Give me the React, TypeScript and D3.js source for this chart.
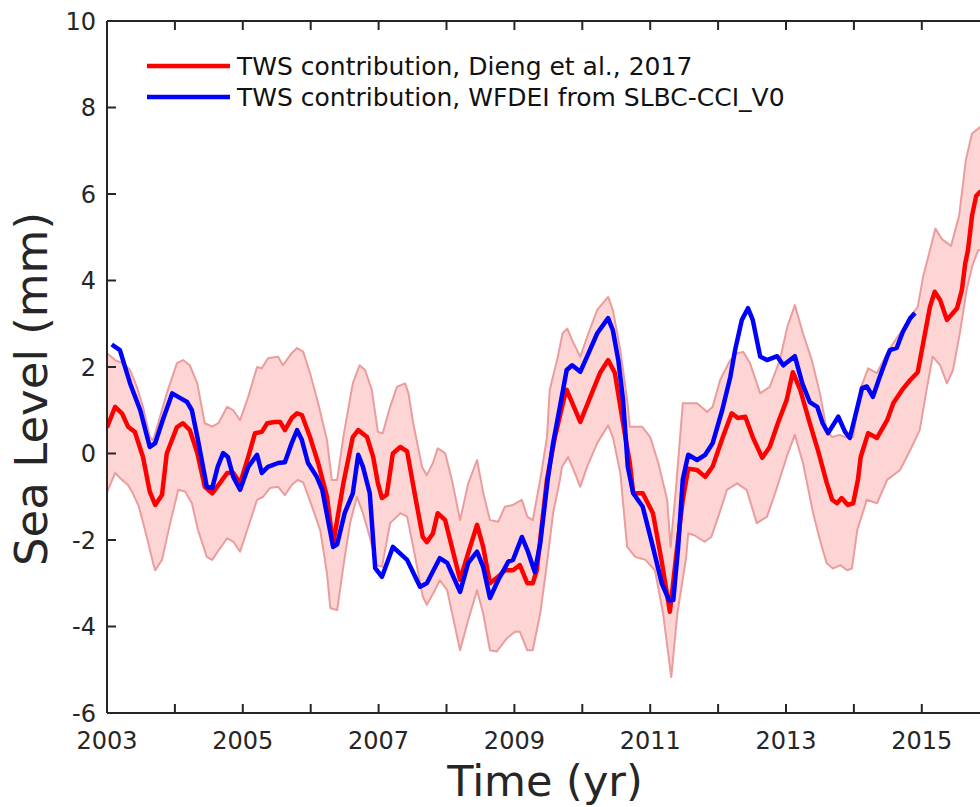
import React from "react";
import * as d3 from "d3";

// ---- Data (decimal year, mm) ----
const diengT = [2003.0,2003.12,2003.22,2003.31,2003.41,2003.53,2003.63,2003.71,2003.81,2003.88,2004.03,2004.12,2004.22,2004.33,2004.44,2004.55,2004.66,2004.77,2004.86,2004.96,2005.08,2005.18,2005.28,2005.36,2005.47,2005.55,2005.62,2005.72,2005.8,2005.87,2005.99,2006.11,2006.24,2006.33,2006.48,2006.62,2006.7,2006.83,2006.92,2006.99,2007.05,2007.12,2007.21,2007.32,2007.42,2007.54,2007.65,2007.71,2007.8,2007.87,2007.98,2008.2,2008.32,2008.45,2008.54,2008.64,2008.76,2008.86,2008.98,2009.08,2009.19,2009.27,2009.33,2009.48,2009.6,2009.75,2009.77,2009.97,2010.16,2010.26,2010.38,2010.48,2010.6,2010.7,2010.75,2010.89,2011.04,2011.17,2011.29,2011.38,2011.48,2011.56,2011.69,2011.81,2011.92,2012.07,2012.2,2012.29,2012.4,2012.51,2012.65,2012.76,2012.88,2013.01,2013.1,2013.21,2013.35,2013.47,2013.6,2013.68,2013.75,2013.82,2013.91,2013.99,2014.06,2014.1,2014.21,2014.34,2014.49,2014.58,2014.71,2014.83,2014.94,2015.02,2015.12,2015.19,2015.27,2015.37,2015.52,2015.59,2015.64,2015.68,2015.74,2015.8,2015.86,2016.0];
const diengV = [0.6,1.08,0.93,0.62,0.5,-0.08,-0.88,-1.19,-0.96,0.0,0.61,0.7,0.54,0.01,-0.77,-0.92,-0.69,-0.45,-0.45,-0.69,-0.08,0.47,0.5,0.7,0.73,0.73,0.54,0.82,0.93,0.89,0.38,-0.22,-1.0,-2.1,-0.7,0.38,0.54,0.38,-0.08,-0.69,-1.03,-0.95,0.0,0.15,0.05,-1.0,-1.93,-2.05,-1.85,-1.38,-1.54,-2.92,-2.3,-1.65,-2.16,-3.0,-2.85,-2.7,-2.7,-2.58,-3.0,-3.0,-2.7,-0.6,0.4,1.4,1.47,0.73,1.47,1.86,2.16,1.86,0.7,-0.22,-0.92,-0.92,-1.38,-2.5,-3.66,-2.4,-1.07,-0.35,-0.38,-0.54,-0.3,0.38,0.93,0.82,0.85,0.38,-0.1,0.15,0.7,1.24,1.88,1.47,0.7,0.08,-0.68,-1.07,-1.15,-1.03,-1.19,-1.15,-0.6,-0.08,0.47,0.36,0.77,1.16,1.47,1.7,1.88,2.55,3.39,3.74,3.55,3.09,3.36,3.78,4.4,4.7,5.5,5.95,6.05,6.1];

const upperT = [2003.0,2003.12,2003.23,2003.34,2003.44,2003.53,2003.63,2003.68,2003.88,2004.03,2004.12,2004.22,2004.33,2004.44,2004.55,2004.64,2004.77,2004.86,2004.96,2005.08,2005.21,2005.28,2005.37,2005.52,2005.59,2005.72,2005.8,2005.89,2005.99,2006.11,2006.24,2006.31,2006.39,2006.48,2006.62,2006.72,2006.8,2006.9,2006.99,2007.06,2007.17,2007.27,2007.39,2007.44,2007.51,2007.64,2007.71,2007.8,2007.87,2007.98,2008.08,2008.2,2008.32,2008.45,2008.54,2008.64,2008.76,2008.86,2008.98,2009.11,2009.19,2009.27,2009.38,2009.48,2009.52,2009.64,2009.71,2009.78,2009.85,2009.97,2010.09,2010.22,2010.38,2010.45,2010.56,2010.66,2010.7,2010.88,2011.0,2011.12,2011.25,2011.3,2011.38,2011.48,2011.69,2011.84,2011.92,2012.03,2012.18,2012.28,2012.37,2012.47,2012.62,2012.76,2012.91,2013.02,2013.13,2013.25,2013.38,2013.5,2013.6,2013.68,2013.79,2013.9,2013.99,2014.09,2014.21,2014.34,2014.49,2014.58,2014.71,2014.83,2014.94,2015.02,2015.12,2015.2,2015.3,2015.43,2015.55,2015.65,2015.74,2015.86,2016.0];
const upperV = [2.32,2.16,2.09,1.93,1.54,1.08,0.38,0.3,1.39,2.09,2.16,2.04,1.62,0.7,0.62,0.7,1.08,1.0,0.77,1.31,2.0,1.97,2.2,2.24,2.04,2.32,2.44,2.35,1.86,1.16,0.31,-0.61,-0.61,0.38,1.62,2.04,1.93,1.47,0.5,0.47,1.08,1.54,1.62,1.39,0.7,-0.31,-0.5,-0.22,0.12,0.01,-0.61,-1.54,-0.69,-0.15,-0.9,-1.54,-1.58,-1.23,-1.19,-1.07,-1.46,-1.54,-0.61,0.38,1.47,2.24,2.78,2.89,2.62,2.24,2.78,3.32,3.62,3.32,2.39,1.24,0.62,0.62,0.38,-0.22,-1.07,-2.16,-0.8,1.16,1.16,0.96,1.08,1.7,2.16,2.32,2.35,2.09,1.39,1.54,2.16,2.93,3.43,2.78,2.16,1.39,0.54,0.38,0.43,0.36,0.38,1.47,1.97,1.86,2.32,2.55,2.85,3.16,3.39,4.09,4.7,5.2,4.95,4.8,5.5,6.8,7.4,7.55,7.6];

const lowerT = [2003.0,2003.12,2003.22,2003.31,2003.38,2003.47,2003.56,2003.68,2003.71,2003.81,2003.93,2004.05,2004.15,2004.25,2004.34,2004.47,2004.55,2004.63,2004.77,2004.86,2004.96,2005.08,2005.21,2005.3,2005.4,2005.52,2005.62,2005.72,2005.81,2005.89,2006.02,2006.14,2006.24,2006.29,2006.39,2006.48,2006.58,2006.68,2006.77,2006.87,2006.97,2007.05,2007.17,2007.32,2007.42,2007.51,2007.65,2007.71,2007.83,2007.9,2008.01,2008.2,2008.32,2008.45,2008.54,2008.64,2008.74,2008.89,2009.01,2009.08,2009.19,2009.27,2009.38,2009.48,2009.57,2009.67,2009.7,2009.79,2009.89,2009.97,2010.07,2010.22,2010.38,2010.45,2010.56,2010.66,2010.78,2010.93,2011.07,2011.19,2011.31,2011.4,2011.53,2011.56,2011.65,2011.8,2011.9,2012.02,2012.13,2012.28,2012.42,2012.57,2012.72,2012.84,2013.01,2013.13,2013.25,2013.4,2013.5,2013.6,2013.69,2013.8,2013.9,2013.97,2014.05,2014.19,2014.34,2014.49,2014.68,2014.83,2014.97,2015.07,2015.16,2015.27,2015.37,2015.46,2015.56,2015.66,2015.74,2015.83,2016.0];
const lowerV = [-0.9,-0.45,-0.61,-0.73,-0.92,-1.23,-1.77,-2.54,-2.7,-2.46,-1.61,-0.84,-0.88,-1.15,-1.77,-2.39,-2.46,-2.27,-1.96,-2.04,-2.27,-1.7,-1.07,-1.0,-0.8,-0.77,-0.96,-0.73,-0.61,-0.67,-1.23,-1.77,-2.77,-3.58,-3.62,-2.62,-1.61,-1.0,-1.38,-1.93,-2.58,-2.62,-1.61,-1.38,-1.46,-2.16,-3.31,-3.5,-3.16,-2.93,-3.16,-4.55,-3.85,-3.16,-3.7,-4.55,-4.58,-4.27,-4.12,-4.12,-4.55,-4.55,-3.7,-2.54,-1.38,-0.61,-0.31,-0.08,-0.45,-0.77,-0.31,0.24,0.65,0.38,-0.45,-2.16,-2.39,-2.46,-2.7,-3.7,-5.17,-3.7,-2.39,-1.85,-1.89,-2.04,-1.93,-1.38,-0.84,-0.69,-0.84,-1.61,-1.46,-0.92,-0.08,0.43,-0.22,-1.38,-2.0,-2.54,-2.66,-2.58,-2.7,-2.66,-1.77,-1.07,-1.15,-0.61,-0.38,0.08,0.54,1.47,2.24,2.04,1.62,1.93,2.78,3.78,4.32,4.7,4.7];

const wfdeiT = [2003.07,2003.19,2003.34,2003.49,2003.63,2003.71,2003.82,2003.96,2004.08,2004.18,2004.25,2004.34,2004.47,2004.55,2004.63,2004.71,2004.78,2004.86,2004.96,2005.08,2005.21,2005.28,2005.37,2005.52,2005.62,2005.72,2005.8,2005.87,2005.96,2006.09,2006.17,2006.33,2006.39,2006.5,2006.62,2006.7,2006.77,2006.87,2006.95,2007.05,2007.21,2007.42,2007.61,2007.71,2007.9,2008.01,2008.2,2008.32,2008.45,2008.54,2008.64,2008.76,2008.91,2008.98,2009.11,2009.2,2009.3,2009.38,2009.49,2009.57,2009.67,2009.77,2009.85,2009.97,2010.07,2010.22,2010.38,2010.45,2010.53,2010.6,2010.67,2010.75,2010.89,2011.04,2011.17,2011.28,2011.34,2011.41,2011.48,2011.56,2011.69,2011.81,2011.92,2012.06,2012.18,2012.25,2012.35,2012.44,2012.51,2012.62,2012.72,2012.87,2012.96,2013.13,2013.24,2013.35,2013.46,2013.54,2013.62,2013.77,2013.87,2013.94,2014.12,2014.19,2014.28,2014.38,2014.49,2014.53,2014.63,2014.72,2014.83,2014.9];
const wfdeiV = [2.52,2.39,1.62,1.0,0.15,0.24,0.77,1.39,1.28,1.19,1.0,0.31,-0.77,-0.8,-0.31,0.01,-0.08,-0.54,-0.84,-0.31,-0.03,-0.45,-0.31,-0.22,-0.2,0.24,0.54,0.31,-0.22,-0.54,-0.84,-2.16,-2.1,-1.38,-0.92,-0.03,-0.31,-0.92,-2.65,-2.85,-2.16,-2.46,-3.08,-3.0,-2.42,-2.53,-3.2,-2.53,-2.27,-2.62,-3.34,-2.93,-2.5,-2.46,-1.93,-2.27,-2.74,-2.08,-0.61,0.24,1.08,1.93,2.04,1.89,2.24,2.78,3.13,2.85,2.16,1.24,-0.31,-0.92,-1.23,-2.16,-3.0,-3.4,-3.39,-2.2,-0.6,-0.03,-0.15,-0.03,0.24,1.0,1.77,2.39,3.09,3.36,3.09,2.24,2.16,2.25,2.04,2.25,1.62,1.19,1.08,0.7,0.47,0.85,0.5,0.36,1.51,1.55,1.31,1.77,2.24,2.39,2.44,2.81,3.13,3.25];

const yTicks = [-6, -4, -2, 0, 2, 4, 6, 8, 10];
const xTickYears = [2003, 2004, 2005, 2006, 2007, 2008, 2009, 2010, 2011, 2012, 2013, 2014, 2015, 2016];
const xLabelYears = [2003, 2005, 2007, 2009, 2011, 2013, 2015];
const legendLabels = [
  "TWS contribution, Dieng et al., 2017",
  "TWS contribution, WFDEI from SLBC-CCI_V0",
];

const W = 980;
const H = 807;
const left = 107;
const top = 21;
const bottom = 713;
const FONT = "'DejaVu Sans', sans-serif";
const AXIS = "#262626";

export default function App() {
  const x = d3.scaleLinear().domain([2003, 2017]).range([left, left + 14 * 67.9]);
  const y = d3.scaleLinear().domain([-6, 10]).range([bottom, top]);

  const zip = (t: number[], v: number[]) => t.map((d, i) => [d, v[i]] as [number, number]);
  const red = zip(diengT, diengV);
  const blue = zip(wfdeiT, wfdeiV);
  const up = zip(upperT, upperV);
  const lo = zip(lowerT, lowerV);

  const line = d3
    .line<[number, number]>()
    .x((d) => x(d[0]))
    .y((d) => y(d[1]));

  const bandPath = line([...up, ...lo.slice().reverse()]) + "Z";

  return (
    <svg
      width={W}
      height={H}
      style={{ position: "absolute", left: 0, top: 0, background: "#fff" }}
      fontFamily={FONT}
    >
      <defs>
        <clipPath id="plot">
          <rect x={left} y={top} width={W - left + 20} height={bottom - top} />
        </clipPath>
      </defs>
      <rect x={0} y={0} width={W} height={H} fill="#fff" />
      <g clipPath="url(#plot)">
        <path d={bandPath} fill="#fdd5d5" stroke="none" />
        <path d={line(up) || ""} fill="none" stroke="#eb9c9c" strokeWidth={2} strokeLinejoin="round" />
        <path d={line(lo) || ""} fill="none" stroke="#eb9c9c" strokeWidth={2} strokeLinejoin="round" />
        <path d={line(red) || ""} fill="none" stroke="#ff0000" strokeWidth={4.5} strokeLinejoin="round" />
        <path d={line(blue) || ""} fill="none" stroke="#0000ff" strokeWidth={4.5} strokeLinejoin="round" />
      </g>

      {/* axes frame */}
      <line x1={left} x2={W + 5} y1={top} y2={top} stroke={AXIS} strokeWidth={2} />
      <line x1={left} x2={W + 5} y1={bottom} y2={bottom} stroke={AXIS} strokeWidth={2} />
      <line x1={left} x2={left} y1={top} y2={bottom} stroke={AXIS} strokeWidth={2} />

      {yTicks.map((t) => (
        <g key={"y" + t}>
          <line x1={left} x2={left + 9} y1={y(t)} y2={y(t)} stroke={AXIS} strokeWidth={2} />
          <text x={left - 11} y={y(t)} dy="0.36em" textAnchor="end" fontSize={24} fill={AXIS}>
            {t}
          </text>
        </g>
      ))}
      {xTickYears.map((t) => (
        <g key={"x" + t}>
          <line x1={x(t)} x2={x(t)} y1={bottom} y2={bottom - 9} stroke={AXIS} strokeWidth={2} />
          <line x1={x(t)} x2={x(t)} y1={top} y2={top + 9} stroke={AXIS} strokeWidth={2} />
        </g>
      ))}
      {xLabelYears.map((t) => (
        <text key={"xl" + t} x={x(t)} y={749} textAnchor="middle" fontSize={24} fill={AXIS}>
          {t}
        </text>
      ))}

      <text x={545} y={796} textAnchor="middle" fontSize={43} fill={AXIS}>
        Time (yr)
      </text>
      <text
        transform={`translate(47, 389) rotate(-90)`}
        textAnchor="middle"
        fontSize={45}
        fill={AXIS}
      >
        Sea Level (mm)
      </text>

      {/* legend */}
      <line x1={147} x2={230} y1={66} y2={66} stroke="#ff0000" strokeWidth={4.5} />
      <line x1={147} x2={230} y1={97} y2={97} stroke="#0000ff" strokeWidth={4.5} />
      <text x={237} y={75} fontSize={25} fill="#111">
        {legendLabels[0]}
      </text>
      <text x={237} y={106} fontSize={25} fill="#111">
        {legendLabels[1]}
      </text>
    </svg>
  );
}
